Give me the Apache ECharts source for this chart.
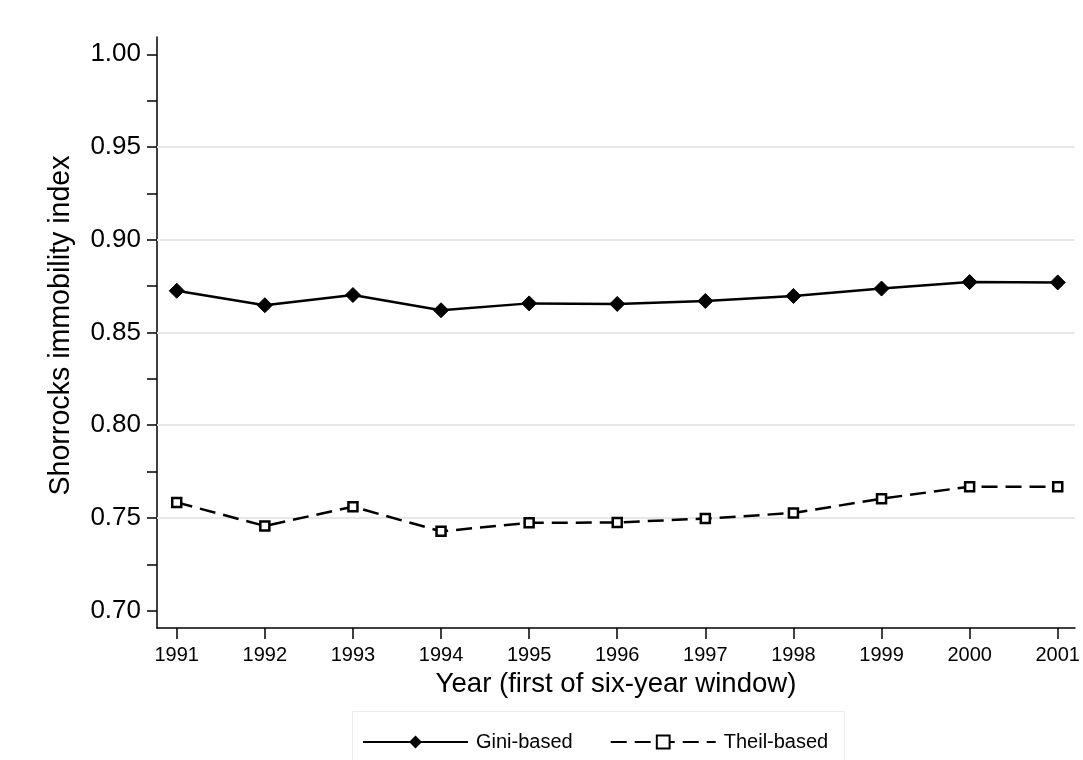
<!DOCTYPE html>
<html>
<head>
<meta charset="utf-8">
<script src="https://cdn.jsdelivr.net/npm/echarts@6/dist/echarts.min.js"></script>
<style>html,body{margin:0;padding:0;background:#fff}#c{width:1083px;height:760px}</style>
</head>
<body>
<div id="c"></div>
<script>
var years = [1991,1992,1993,1994,1995,1996,1997,1998,1999,2000,2001];
var giniValues = [0.8725,0.8647,0.8702,0.8620,0.8657,0.8654,0.8670,0.8697,0.8737,0.8772,0.8770];
var theilValues = [0.7584,0.7457,0.7561,0.7428,0.7474,0.7476,0.7497,0.7527,0.7604,0.7669,0.7669];
var yLabelValues = [0.70,0.75,0.80,0.85,0.90,0.95,1.00];
var yTickValues = [0.70,0.725,0.75,0.775,0.80,0.825,0.85,0.875,0.90,0.925,0.95,0.975,1.00];
var gridValues = [0.75,0.80,0.85,0.90,0.95];
var seriesNames = ['Gini-based','Theil-based'];

var FONT = "'Liberation Sans', Arial, sans-serif";
function pairs(vals){ return years.map(function(y,i){ return [y, vals[i]]; }); }

var chart = echarts.init(document.getElementById('c'), null, {renderer:'canvas'});
chart.setOption({
  backgroundColor:'#fff',
  animation:false,
  textStyle:{fontFamily:FONT},
  grid:{left:157,right:8,top:37,bottom:132,containLabel:false},
  xAxis:{
    type:'value', min:1990.776, max:2001.196,
    name:'Year (first of six-year window)', nameLocation:'middle', nameGap:36,
    nameTextStyle:{fontSize:27.6,color:'#000',fontFamily:FONT},
    axisLine:{show:true,lineStyle:{color:'#000',width:1.5}},
    axisTick:{show:true,length:11,customValues:years,lineStyle:{color:'#000',width:1.5}},
    axisLabel:{customValues:years,fontSize:20,color:'#000',margin:17,fontFamily:FONT,formatter:function(v){return String(v);}},
    splitLine:{show:false}
  },
  yAxis:{
    type:'value', min:0.6907, max:1.0093,
    name:'Shorrocks immobility index', nameLocation:'middle', nameGap:81,
    nameTextStyle:{fontSize:28.6,color:'#000',fontFamily:FONT,padding:[0,0,0,14]},
    axisLine:{show:true,lineStyle:{color:'#000',width:1.5}},
    axisTick:{show:true,length:10,customValues:yTickValues,lineStyle:{color:'#000',width:1.5}},
    axisLabel:{customValues:yLabelValues,fontSize:26,color:'#000',margin:16,fontFamily:FONT,formatter:function(v){return v.toFixed(2);}},
    splitLine:{show:false}
  },
  legend:{
    data:seriesNames,
    left:362, top:732, padding:0,
    itemWidth:105, itemHeight:16, itemGap:37,
    textStyle:{fontSize:20,color:'#000',fontFamily:FONT,padding:[0,0,0,3]}
  },
  graphic:[{
    type:'rect', left:352, top:711, z:-10,
    shape:{x:0,y:0,width:492,height:60},
    style:{fill:'#fff',stroke:'#ececec',lineWidth:1}
  }],
  series:[
    {
      type:'line', name:'grid', data:[], z:1, silent:true,
      markLine:{silent:true, symbol:'none', z:1, animation:false,
        label:{show:false},
        lineStyle:{color:'#e8e8e8',width:2,type:'solid'},
        data:gridValues.map(function(v){return {yAxis:v};})
      }
    },
    {
      type:'line', name:seriesNames[0], data:pairs(giniValues), z:3,
      symbol:'diamond', symbolSize:15,
      lineStyle:{color:'#000',width:2.5,type:'solid'},
      itemStyle:{color:'#000',borderColor:'#000'}
    },
    {
      type:'line', name:seriesNames[1], data:pairs(theilValues), z:3,
      symbol:'rect', symbolSize:9,
      lineStyle:{color:'#000',width:2.5,type:[16,8]},
      itemStyle:{color:'#fff',borderColor:'#000',borderWidth:2.5}
    }
  ]
});
</script>
</body>
</html>
